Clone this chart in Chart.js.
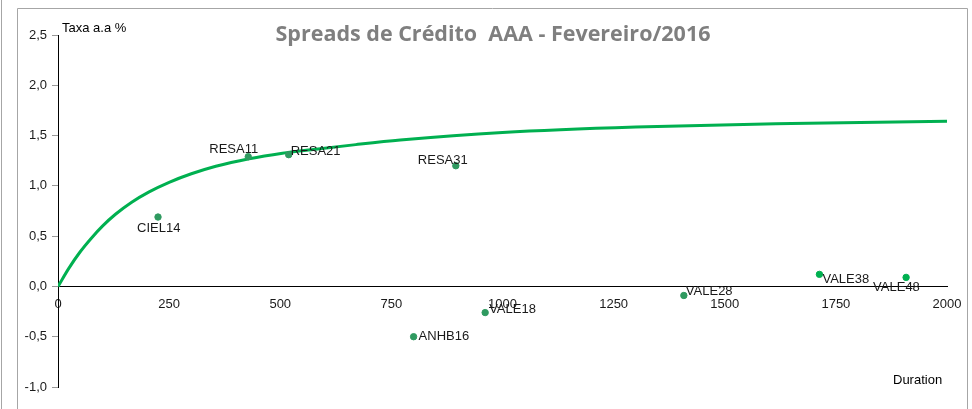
<!DOCTYPE html>
<html>
<head>
<meta charset="utf-8">
<script src="https://cdn.jsdelivr.net/npm/chart.js@4/dist/chart.umd.min.js"></script>
<style>
  html, body { margin: 0; padding: 0; background: #fff; }
  #wrap { width: 972px; height: 409px; position: relative; }
</style>
</head>
<body>
<div id="wrap"><canvas id="spreadChart"></canvas></div>
<script>
// bonds: duration (days) and spread (% a.a.)
const bondNames = ["CIEL14", "RESA11", "RESA21", "RESA31", "ANHB16", "VALE18", "VALE28", "VALE38", "VALE48"];
const bondDuration = [225, 428, 519, 895, 800, 961, 1408, 1713, 1908];
const bondSpread = [0.69, 1.29, 1.31, 1.20, -0.50, -0.26, -0.09, 0.12, 0.09];

// fitted curve
const curveDuration = [0, 25, 50, 75, 100, 130, 165, 205, 250, 300, 355, 430, 505, 570, 670, 770, 1000, 1300, 1650, 2000];
const curveSpread = [0, 0.185, 0.345, 0.48, 0.60, 0.72, 0.835, 0.94, 1.035, 1.12, 1.195, 1.27, 1.325, 1.36, 1.41, 1.455, 1.53, 1.585, 1.62, 1.643];

const yTicks = [-1.0, -0.5, 0.0, 0.5, 1.0, 1.5, 2.0, 2.5];
const xTicks = [0, 250, 500, 750, 1000, 1250, 1500, 1750, 2000];

// label placement, left edge offset from point (px)
const labelOffset = [
  [-21, 11], [-39, -7], [2, -3], [-38, -5], [5, 0],
  [4, -3], [2, -4], [3, 5], [-33, 10]
];
const pointColors = bondNames.map(n => (n === "VALE38" || n === "VALE48") ? "#00b050" : "#2f9a60");

const FONT = "'Liberation Sans', Arial, sans-serif";

const decorations = {
  id: "decorations",
  beforeDraw(chart) {
    const c = chart.ctx;
    c.save();
    c.strokeStyle = "#a6a6a6";
    c.lineWidth = 1;
    c.beginPath();
    c.moveTo(1.5, 0); c.lineTo(1.5, 409);
    c.moveTo(17.5, 8.5); c.lineTo(17.5, 409);
    c.moveTo(17.5, 8.5); c.lineTo(967.5, 8.5);
    c.moveTo(967.5, 8.5); c.lineTo(967.5, 409);
    c.stroke();
    c.restore();
  },
  afterDraw(chart) {
    const c = chart.ctx;
    c.save();
    c.fillStyle = "#7f7f7f";
    c.font = "bold 21.5px 'Open Sans', sans-serif";
    c.textAlign = "center";
    c.textBaseline = "middle";
    c.fillText("Spreads de Crédito  AAA - Fevereiro/2016", 493, 35);

    c.fillStyle = "#000";
    c.font = "13px " + FONT;
    c.textAlign = "left";
    c.fillText("Taxa a.a %", 62, 28);
    c.fillText("Duration", 893, 380);

    // bond labels
    const meta = chart.getDatasetMeta(1);
    c.fillStyle = "#1a1a1a";
    meta.data.forEach((pt, i) => {
      const [dx, dy] = labelOffset[i];
      c.fillText(bondNames[i], pt.x + dx, pt.y + dy);
    });
    c.restore();
  }
};

new Chart(document.getElementById("spreadChart"), {
  type: "scatter",
  data: {
    datasets: [
      {
        type: "line",
        data: curveDuration.map((d, i) => ({ x: d, y: curveSpread[i] })),
        borderColor: "#00b050",
        borderWidth: 3,
        pointRadius: 0,
        cubicInterpolationMode: "monotone",
        fill: false,
        order: 2,
      },
      {
        data: bondDuration.map((d, i) => ({ x: d, y: bondSpread[i] })),
        backgroundColor: pointColors,
        borderColor: pointColors,
        pointRadius: 3.2,
        order: 1,
      },
    ],
  },
  options: {
    responsive: true,
    maintainAspectRatio: false,
    animation: false,
    layout: { padding: { left: 0, right: 25, top: 35, bottom: 22 } },
    plugins: {
      legend: { display: false },
      tooltip: { enabled: false },
    },
    scales: {
      x: {
        type: "linear",
        position: { y: 0 },
        min: 0,
        max: 2000,
        afterBuildTicks: (axis) => { axis.ticks = xTicks.map(v => ({ value: v })); },
        grid: { display: false, drawTicks: false },
        border: { display: true, color: "#000", width: 1 },
        ticks: {
          padding: 10,
          maxRotation: 0,
          autoSkip: false,
          color: "#1a1a1a",
          font: { family: FONT, size: 13 },
          callback: (v) => String(v),
        },
      },
      y: {
        type: "linear",
        position: "left",
        min: -1,
        max: 2.5,
        afterBuildTicks: (axis) => { axis.ticks = yTicks.map(v => ({ value: v })); },
        afterFit: (axis) => { axis.width = 58; },
        grid: { drawOnChartArea: false, drawTicks: true, tickLength: 6, color: "#999" },
        border: { display: true, color: "#000", width: 1 },
        ticks: {
          padding: 5,
          autoSkip: false,
          color: "#1a1a1a",
          font: { family: FONT, size: 13 },
          callback: (v) => v.toFixed(1).replace(".", ","),
        },
      },
    },
  },
  plugins: [decorations],
});
</script>
</body>
</html>
